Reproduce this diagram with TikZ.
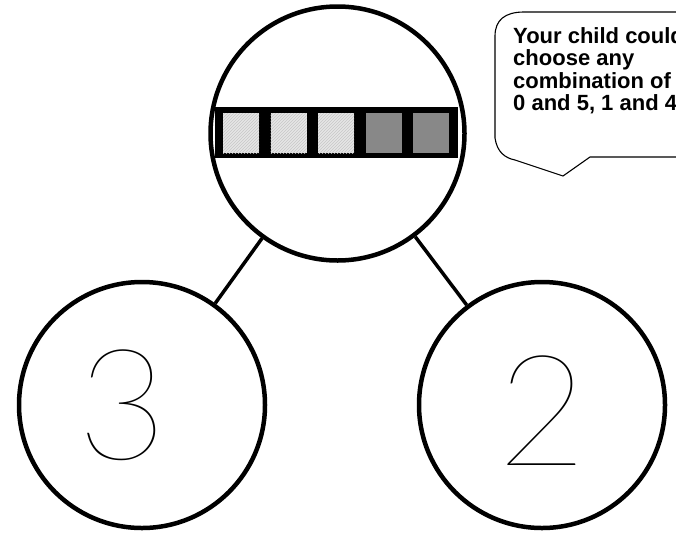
\documentclass[tikz,border=0pt]{standalone}
\usepackage{fontspec}
\setmainfont{Liberation Sans}
\newfontfamily\handfont{Lato Hairline}
\usepackage{tikz}
\usetikzlibrary{patterns}
\definecolor{cellpale}{HTML}{E6E6E6}
\definecolor{cellgrey}{HTML}{888888}

\begin{document}
\begin{tikzpicture}[x=1pt, y=-1pt,
      part/.style={draw, circle, line width=4.5pt, inner sep=0pt},
      link/.style={line width=3.5pt},
      cell/.style={minimum width=36pt, minimum height=40pt, inner sep=0pt},
      hatch/.style={postaction={pattern=north east lines, pattern color=black!22}},
      digit/.style={font=\handfont\fontsize{155}{155}\selectfont, text=black, inner sep=0pt},
      note/.style={font=\bfseries\fontsize{22}{22.5}\selectfont, align=left,
                   anchor=north west, inner sep=0pt},
      bubble/.style={draw, line width=1.1pt, line join=round}
    ]
    \useasboundingbox (0,0) rectangle (676,533);
    \clip (0,0) rectangle (676,533);

    \node[part, minimum size=254pt] (whole) at (337.5,133.5) {};
    \node[part, minimum size=246pt] (left)  at (142,405)     {};
    \node[part, minimum size=246pt] (right) at (542,405)     {};

    \draw[link] (whole) -- (left);
    \draw[link] (whole) -- (right);

    \node[fill=black, minimum width=243pt, minimum height=51pt, inner sep=0pt] (bar) at (336.5,132.5) {};
    \foreach \i in {0,1,2}
      \node[cell, fill=cellpale, hatch] (cell\i) at (241+47.5*\i,133) {};
    \foreach \i in {3,4}
      \node[cell, fill=cellgrey] (cell\i) at (241+47.5*\i,133) {};

    \node[digit] (three) at ([xshift=-20pt]left.center) {3};
    \node[digit] (two)   at ([yshift=-6pt]right.center) {2};

    \draw[bubble] (700,12) -- (524,12) .. controls (505,12) and (495,20) .. (495,36)
      -- (495,138) .. controls (497,152) and (505,158) .. (515,160)
      -- (563,176) -- (590,157) -- (700,157);
    \node[note] (tip) at (513,27) {Your child could\\choose any\\combination of\\0 and 5, 1 and 4};
  \end{tikzpicture}
\end{document}
